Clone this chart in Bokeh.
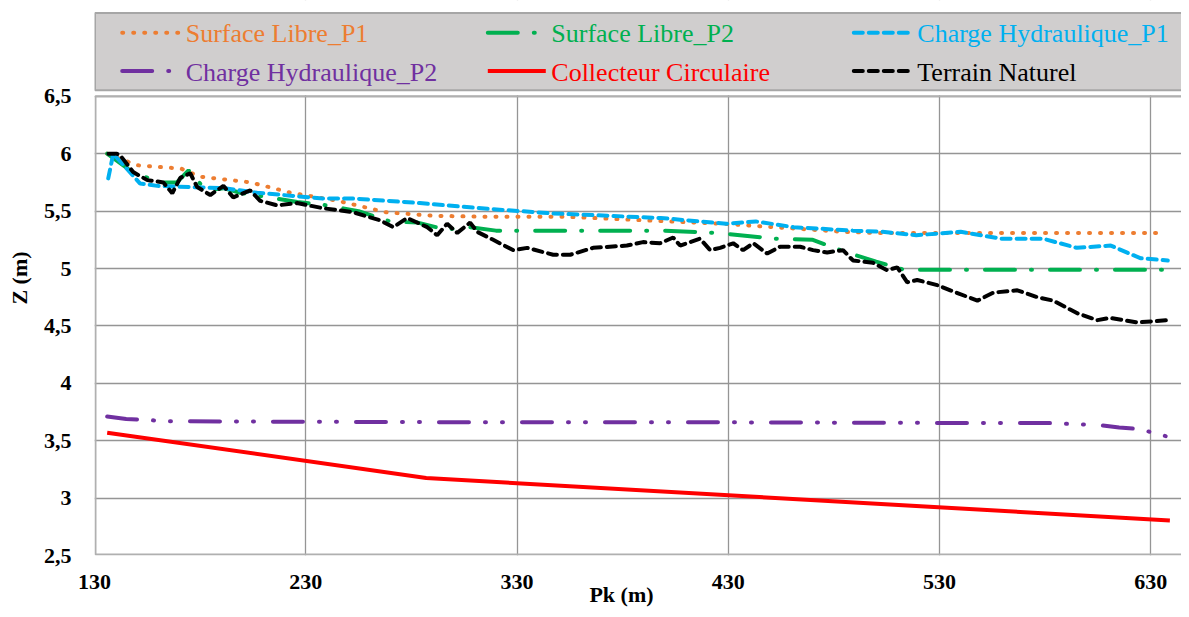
from bokeh.plotting import figure
from bokeh.models import Range1d, FixedTicker, LinearAxis
from bokeh.core.properties import value
from bokeh.embed import file_html
from bokeh.resources import INLINE

# ---------------- data ----------------
sl1_x = [136, 150, 171, 180, 204, 223, 245, 268, 290, 316, 354, 390, 427, 460, 484, 500, 550, 600, 635]
sl1_y = [6.0, 5.90, 5.87, 5.80, 5.75, 5.66, 5.59, 5.49, 5.46, 5.45, 5.45, 5.42, 5.39, 5.35, 5.32, 5.31, 5.31, 5.31, 5.31]

sl2_x = [136, 148, 161, 169, 174.5, 178.5, 183, 191, 199, 212, 226, 240, 255, 270, 283, 296, 308, 320,
         350, 400, 425, 452, 470, 486, 500, 513, 560, 638.5]
sl2_y = [6.0, 5.84, 5.75, 5.75, 5.855, 5.77, 5.68, 5.70, 5.66, 5.62, 5.58, 5.55, 5.50, 5.41, 5.40, 5.34, 5.36, 5.33,
         5.33, 5.33, 5.31, 5.26, 5.25, 5.14, 5.06, 4.99, 4.99, 4.99]

ch1_x = [136.5, 138.9, 151.6, 159.7, 191, 207, 238, 252, 284, 316, 347, 398, 429, 443, 461, 489, 503, 519,
         540, 559, 579, 595, 611, 625, 638]
ch1_y = [5.785, 6.0, 5.74, 5.72, 5.70, 5.66, 5.61, 5.61, 5.57, 5.52, 5.48, 5.44, 5.39, 5.41, 5.36, 5.33, 5.32, 5.29,
         5.32, 5.26, 5.26, 5.18, 5.20, 5.09, 5.07]

ch2_x = [136, 145, 165, 230, 330, 430, 530, 580, 606, 615, 625, 637]
ch2_y = [3.71, 3.69, 3.67, 3.665, 3.66, 3.66, 3.655, 3.655, 3.635, 3.615, 3.60, 3.54]

cc_x = [136, 287, 639]
cc_y = [3.57, 3.175, 2.805]

tn_x = [136.6, 140.6, 142.2, 148.3, 155, 162.6, 166.8, 170.6, 175.3, 178.6, 184.8, 191, 195.7, 203.7, 208.4,
        216.5, 225.9, 238.2, 244.9, 252.4, 265.2, 271.4, 278, 287.5, 292.2, 296.9, 301.7, 307.8, 311.1, 318.7,
        328.2, 334.8, 347.1, 355.2, 366, 382, 389.6, 397.7, 403.9, 407.2, 416.6, 421.4, 426.1, 432.3, 437,
        441.8, 448.4, 454.5, 464, 470.1, 476.8, 484.3, 489, 498.5, 505.2, 510, 514.7, 519.4, 528.9, 535.1,
        547.9, 555.4, 566.8, 576.3, 583.8, 595.2, 604.6, 610.8, 623.6, 637.8]
tn_y = [6.0, 6.0, 5.985, 5.84, 5.77, 5.75, 5.655, 5.79, 5.83, 5.71, 5.64, 5.72, 5.62, 5.68, 5.59,
        5.55, 5.57, 5.525, 5.51, 5.49, 5.42, 5.36, 5.44, 5.36, 5.29, 5.39, 5.31, 5.40, 5.32, 5.25,
        5.16, 5.18, 5.12, 5.12, 5.18, 5.20, 5.23, 5.22, 5.27, 5.20, 5.26, 5.16, 5.18, 5.22, 5.16,
        5.22, 5.13, 5.19, 5.19, 5.16, 5.14, 5.16, 5.07, 5.05, 4.985, 5.01, 4.88, 4.90, 4.855, 4.81,
        4.72, 4.79, 4.81, 4.75, 4.72, 4.61, 4.55, 4.57, 4.53, 4.55]

series_names = ["Surface Libre_P1", "Surface Libre_P2", "Charge Hydraulique_P1",
                "Charge Hydraulique_P2", "Collecteur Circulaire", "Terrain Naturel"]
series_colors = ["#ED7D31", "#00B050", "#00B0F0", "#7030A0", "#FF0000", "#000000"]
series_dash = ["1 10", "30 16 1 18", "9 6", "30 16 1 16 1 19", "solid", "9 6"]

x_ticks = [130, 230, 330, 430, 530, 630]
y_ticks = [2.5, 3, 3.5, 4, 4.5, 5, 5.5, 6, 6.5]
y_tick_labels = ["2,5", "3", "3,5", "4", "4,5", "5", "5,5", "6", "6,5"]

FONT = "Liberation Serif"
W, H = 1181, 609
LEFT = 94          # frame left (px)
BOTTOM_PAD = 53    # space under plot area
PLOT_TOP = 96      # top of the plotting area (px)
FRAME_H = H - BOTTOM_PAD
PX_PER_UNIT = (FRAME_H - PLOT_TOP) / (y_ticks[-1] - y_ticks[0])

p = figure(width=W, height=H, output_backend="svg", toolbar_location=None,
           x_range=Range1d(130, 644.5),
           y_range=Range1d(y_ticks[0], y_ticks[0] + FRAME_H / PX_PER_UNIT),
           min_border_left=LEFT, min_border_top=0, min_border_bottom=BOTTOM_PAD, min_border_right=0)
p.extra_x_ranges = {"px": Range1d(LEFT, W)}
p.extra_y_ranges = {"px": Range1d(FRAME_H, 0)}
p.background_fill_color = "white"
p.border_fill_color = "white"
p.outline_line_color = None


def style_axis(ax):
    ax.axis_line_color = None
    ax.major_tick_line_color = None
    ax.minor_tick_line_color = None
    ax.major_tick_out = 0
    ax.major_tick_in = 0
    ax.major_label_text_font = FONT
    ax.major_label_text_font_style = "bold"
    ax.major_label_text_font_size = "22px"
    ax.major_label_text_color = "black"
    ax.axis_label_text_font = FONT
    ax.axis_label_text_font_style = "bold"
    ax.axis_label_text_font_size = "22px"
    ax.axis_label_text_color = "black"


xa = p.xaxis[0]
ya = p.yaxis[0]
style_axis(xa)
style_axis(ya)

xa.ticker = FixedTicker(ticks=x_ticks)
ya.ticker = FixedTicker(ticks=y_ticks)
ya.bounds = (y_ticks[0], y_ticks[-1])
ya.major_label_overrides = {t: l for t, l in zip(y_ticks, y_tick_labels)}
xa.major_label_standoff = 19
ya.major_label_standoff = 23
ya.axis_label = "Z (m)"
ya.axis_label_standoff = 9

# axis that only carries the title "Pk (m)" (trailing no-break spaces nudge it left, as in the reference)
xt = LinearAxis(ticker=FixedTicker(ticks=[]), bounds=(x_ticks[0], x_ticks[-1]))
style_axis(xt)
xt.major_label_standoff = 0
xt.axis_label = "Pk (m)" + "\u00a0" * 6
xt.axis_label_standoff = -10
p.add_layout(xt, "below")

p.xgrid.ticker = FixedTicker(ticks=x_ticks)
p.ygrid.ticker = FixedTicker(ticks=y_ticks)
p.grid.grid_line_color = "#959595"
p.grid.grid_line_width = 1.3

# white cover above the plot area (hides vertical grid lines there)
p.quad(left=[LEFT - 5], right=[W + 10], top=[-5], bottom=[PLOT_TOP - 1],
       fill_color="white", line_color=None, x_range_name="px", y_range_name="px")

# ---------------- legend box ----------------
p.quad(left=[LEFT + 0.5], right=[W + 10], top=[12.5], bottom=[90],
       fill_color="#D0CECE", line_color="#a6a6a6", line_width=2,
       x_range_name="px", y_range_name="px")
glyph_x0 = [121.7, 487.3, 853.3]
row_cy = [32.3, 70.7]
for i, (name, c, d) in enumerate(zip(series_names, series_colors, series_dash)):
    col, row = i % 3, i // 3
    x0 = glyph_x0[col]
    x1 = x0 + (50 if i == 3 else 58)
    yy = row_cy[row]
    p.line([x0, x1], [yy, yy], line_color=c, line_width=4, line_dash=d,
           line_cap="round" if d != "solid" else "butt", x_range_name="px", y_range_name="px")
    p.text([x0 + 63.5], [yy + 1], text=[name], text_font=value(FONT), text_font_size="26px",
           text_color=c, text_baseline="middle", text_align="left",
           x_range_name="px", y_range_name="px")

# ---------------- series ----------------
series = [(sl1_x, sl1_y), (sl2_x, sl2_y), (ch1_x, ch1_y), (ch2_x, ch2_y), (cc_x, cc_y), (tn_x, tn_y)]
for (xs, ys), c, d in zip(series, series_colors, series_dash):
    p.line(xs, ys, line_color=c, line_width=4, line_dash=d,
           line_cap="round" if d != "solid" else "butt")

# plot-area border
p.quad(left=[LEFT + 1], right=[W + 10], top=[PLOT_TOP], bottom=[FRAME_H - 1],
       fill_color=None, line_color="#b0b0b0", line_width=2,
       x_range_name="px", y_range_name="px")

open("out.html", "w").write(file_html(p, INLINE))
